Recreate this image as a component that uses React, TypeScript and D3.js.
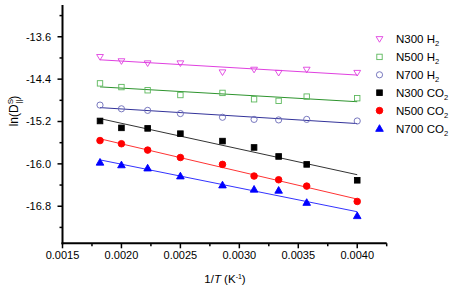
import React from "react";
import * as d3 from "d3";

const invT = [1 / 550, 1 / 500, 1 / 450, 1 / 400, 1 / 350, 1 / 320, 1 / 300, 1 / 280, 1 / 250];

const n300H2 = [-13.98, -14.06, -14.1, -14.1, -14.27, -14.22, -14.28, -14.22, -14.28];
const n500H2 = [-14.48, -14.55, -14.61, -14.7, -14.66, -14.78, -14.81, -14.73, -14.76];
const n700H2 = [-14.89, -14.96, -14.99, -15.05, -15.12, -15.16, -15.17, -15.16, -15.19];
const n300CO2 = [-15.19, -15.32, -15.33, -15.43, -15.57, -15.69, -15.86, -16.01, -16.31];
const n500CO2 = [-15.56, -15.62, -15.74, -15.88, -16.01, -16.23, -16.3, -16.42, -16.71];
const n700CO2 = [-15.97, -16.02, -16.08, -16.23, -16.4, -16.48, -16.5, -16.73, -16.98];

const seriesNames = ["N300", "N500", "N700", "N300", "N500", "N700"];
const seriesGas = ["H", "H", "H", "CO", "CO", "CO"];
const yTicks = [-13.6, -14.4, -15.2, -16.0, -16.8];
const yMinor = [-13.2, -14.0, -14.8, -15.6, -16.4, -17.2];
const xTicks = [0.0015, 0.002, 0.0025, 0.003, 0.0035, 0.004];
const xMinor = [0.00175, 0.00225, 0.00275, 0.00325, 0.00375, 0.00425];

type Sym = "tdown" | "square" | "circle" | "tup";
const series: { values: number[]; sym: Sym; fill: boolean; mark: string; line: string }[] = [
  { values: n300H2, sym: "tdown", fill: false, mark: "#e040e0", line: "#e040e0" },
  { values: n500H2, sym: "square", fill: false, mark: "#5cb85c", line: "#2e942e" },
  { values: n700H2, sym: "circle", fill: false, mark: "#6a6ab8", line: "#33339a" },
  { values: n300CO2, sym: "square", fill: true, mark: "#000000", line: "#333333" },
  { values: n500CO2, sym: "circle", fill: true, mark: "#ff0000", line: "#ff3333" },
  { values: n700CO2, sym: "tup", fill: true, mark: "#0000ff", line: "#3333ff" },
];

function fit(xs: number[], ys: number[]) {
  const mx = d3.mean(xs)!;
  const my = d3.mean(ys)!;
  let num = 0, den = 0;
  xs.forEach((x, i) => { num += (x - mx) * (ys[i] - my); den += (x - mx) * (x - mx); });
  const b = num / den;
  return (x: number) => my + b * (x - mx);
}

function Marker({ sym, x, y, fill, color }: { sym: Sym; x: number; y: number; fill: boolean; color: string }) {
  const f = fill ? color : "none";
  const sw = 0.9;
  if (sym === "square") {
    const s = fill ? 5.6 : 5.4;
    return <rect x={x - s / 2} y={y - s / 2} width={s} height={s} fill={f} stroke={color} strokeWidth={sw} />;
  }
  if (sym === "circle") {
    return <circle cx={x} cy={y} r={fill ? 3.3 : 3.1} fill={f} stroke={color} strokeWidth={sw} />;
  }
  if (sym === "tdown") {
    const s = 3.4;
    return <path d={`M${x - s},${y - s * 0.7} L${x + s},${y - s * 0.7} L${x},${y + s * 0.95} Z`} fill={f} stroke={color} strokeWidth={sw} />;
  }
  const s = 3.8;
  return <path d={`M${x - s},${y + s * 0.75} L${x + s},${y + s * 0.75} L${x},${y - s * 1.0} Z`} fill={f} stroke={color} strokeWidth={sw} />;
}

export default function App() {
  const W = 454, H = 289;
  const x = d3.scaleLinear().domain([0.0015, 0.00425]).range([62.5, 386.7]);
  const y = d3.scaleLinear().domain([-17.5, -13.0]).range([243.3, 5]);
  const font = "'Liberation Sans', Arial, sans-serif";
  const x0 = x.range()[0];
  const yB = y.range()[0];
  const legendX = 379.5;
  const legendY0 = 39;
  const legendDy = 17.9;

  return (
    <div style={{ position: "fixed", left: 0, top: 0 }}>
      <svg width={W} height={H} style={{ display: "block", background: "#fff" }} fontFamily={font}>
        <rect width={W} height={H} fill="#fff" />
        {/* fit lines */}
        {series.map((s, i) => {
          const f = fit(invT, s.values);
          const xa = d3.min(invT)!, xb = d3.max(invT)!;
          return (
            <line key={"l" + i} x1={x(xa)} y1={y(f(xa))} x2={x(xb)} y2={y(f(xb))} stroke={s.line} strokeWidth={1} />
          );
        })}
        {/* markers */}
        {series.map((s, i) =>
          s.values.map((v, j) => (
            <Marker key={`m${i}-${j}`} sym={s.sym} x={x(invT[j])} y={y(v)} fill={s.fill} color={s.mark} />
          ))
        )}
        {/* axes */}
        <line x1={x0} y1={y.range()[1]} x2={x0} y2={yB + 1} stroke="#000" strokeWidth={2} />
        <line x1={x0 - 1} y1={yB} x2={x.range()[1]} y2={yB} stroke="#000" strokeWidth={2} />
        {yTicks.map((t) => (
          <g key={"yt" + t}>
            <line x1={x0 - 5} x2={x0} y1={y(t)} y2={y(t)} stroke="#000" strokeWidth={1.5} />
            <text x={x0 - 11.5} y={y(t)} dy="0.36em" textAnchor="end" fontSize={11}>{t.toFixed(1)}</text>
          </g>
        ))}
        {yMinor.map((t) => (
          <line key={"ym" + t} x1={x0 - 3} x2={x0} y1={y(t)} y2={y(t)} stroke="#000" strokeWidth={1.5} />
        ))}
        {xTicks.map((t) => (
          <g key={"xt" + t}>
            <line x1={x(t)} x2={x(t)} y1={yB} y2={yB + 5} stroke="#000" strokeWidth={1.5} />
            <text x={x(t)} y={yB + 15.5} textAnchor="middle" fontSize={11}>{t.toFixed(4)}</text>
          </g>
        ))}
        {xMinor.map((t) => (
          <line key={"xm" + t} x1={x(t)} x2={x(t)} y1={yB} y2={yB + 3} stroke="#000" strokeWidth={1.5} />
        ))}
        {/* axis titles */}
        <text x={225} y={283} textAnchor="middle" fontSize={11.5}>
          1/<tspan fontStyle="italic">T</tspan> (K<tspan fontSize={7} dy={-4}>-1</tspan><tspan dy={4}>)</tspan>
        </text>
        <text transform="translate(18,111) rotate(-90)" textAnchor="middle" fontSize={12}>
          ln(D<tspan fontSize={8} dy={-5}>S</tspan><tspan fontSize={8} dx={-4.8} dy={8}>||</tspan><tspan dy={-3}>)</tspan>
        </text>
        {/* legend */}
        {series.map((s, i) => {
          const ly = legendY0 + i * legendDy;
          return (
            <g key={"lg" + i}>
              <Marker sym={s.sym} x={legendX} y={ly} fill={s.fill} color={s.mark} />
              <text x={396} y={ly} dy="0.36em" fontSize={11.5}>
                {seriesNames[i]} {seriesGas[i]}
                <tspan fontSize={7.5} dy={3}>2</tspan>
              </text>
            </g>
          );
        })}
      </svg>
    </div>
  );
}
